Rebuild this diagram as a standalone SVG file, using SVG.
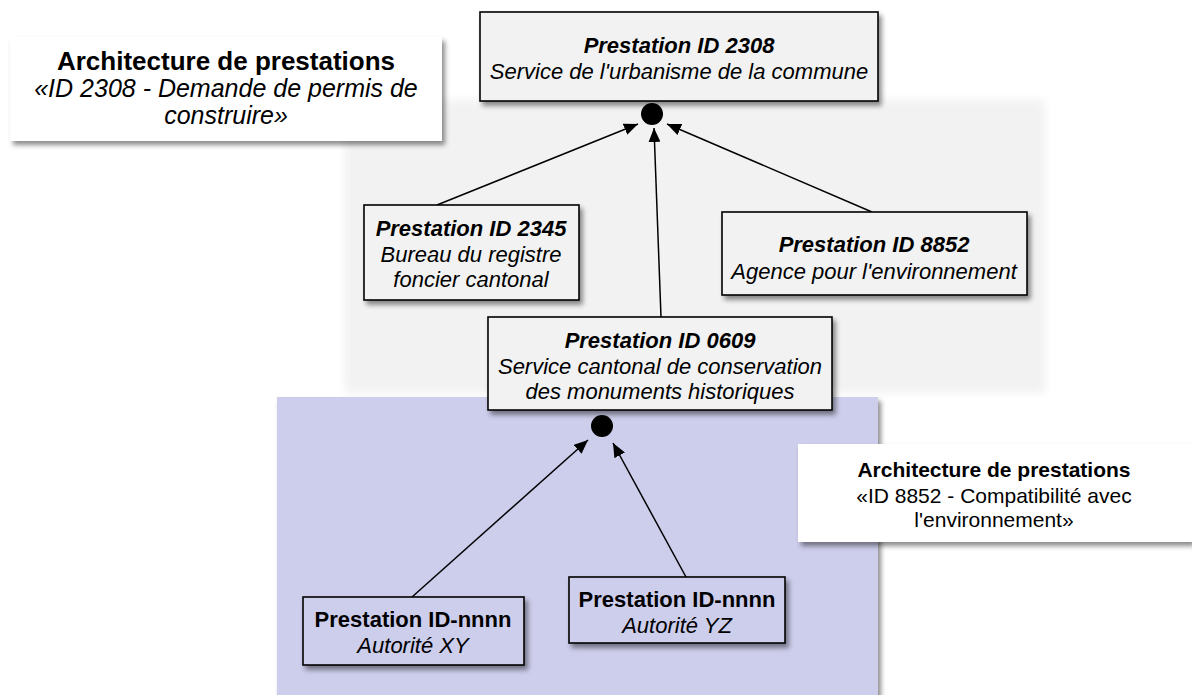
<svg xmlns="http://www.w3.org/2000/svg" width="1192" height="695" viewBox="0 0 1192 695">
  <defs>
    <style>
      .node { fill: #f2f2f2; stroke: #000; stroke-width: 1.6; }
      .node-sub { fill: #cdcdec; stroke: #000; stroke-width: 1.6; }
      .label { fill: #ffffff; }
      text { font-family: "Liberation Sans", Arial, sans-serif; fill: #000; text-anchor: middle; }
      .t { font-size: 22px; }
      .bi { font-weight: bold; font-style: italic; }
      .b { font-weight: bold; }
      .i { font-style: italic; }
      .edge { stroke: #000; stroke-width: 1.5; fill: none; marker-end: url(#arrow); }
      .dot { fill: #000; }
    </style>
    <filter id="shadow" x="-10%" y="-10%" width="130%" height="140%">
      <feDropShadow dx="3" dy="4" stdDeviation="2.5" flood-color="#000" flood-opacity="0.45"/>
    </filter>
    <filter id="soft" x="-5%" y="-5%" width="110%" height="110%">
      <feGaussianBlur stdDeviation="4"/>
    </filter>
    <marker id="arrow" viewBox="0 0 14 12" refX="14" refY="6" markerWidth="14" markerHeight="12" markerUnits="userSpaceOnUse" orient="auto">
      <path d="M0,0 L14,6 L0,12 z" fill="#000"/>
    </marker>
  </defs>

  <rect width="1192" height="695" fill="#ffffff"/>

  <!-- background areas -->
  <g id="area-2308">
    <rect x="345" y="100" width="700" height="293" fill="#f2f2f2" filter="url(#soft)"/>
  </g>
  <g id="area-8852">
    <rect x="277" y="397" width="601" height="310" fill="#cdcdec" filter="url(#shadow)"/>
  </g>

  <!-- title labels -->
  <g id="label-2308">
    <rect class="label" x="10" y="37" width="432" height="104" filter="url(#shadow)"/>
    <text x="226" y="70" style="font-size:26px" class="b">Architecture de prestations</text>
    <text x="226" y="97" style="font-size:25px" class="i">«ID 2308 - Demande de permis de</text>
    <text x="226" y="124" style="font-size:25px" class="i">construire»</text>
  </g>
  <g id="label-8852">
    <rect class="label" x="798" y="444" width="394" height="98" filter="url(#shadow)"/>
    <text x="994" y="477" style="font-size:21px" class="b">Architecture de prestations</text>
    <text x="994" y="503" style="font-size:21px">«ID 8852 - Compatibilité avec</text>
    <text x="994" y="527" style="font-size:21px">l'environnement»</text>
  </g>

  <!-- connectors -->
  <g id="connectors">
    <line class="edge" x1="437" y1="205" x2="638" y2="124"/>
    <line class="edge" x1="661" y1="317" x2="654" y2="128"/>
    <line class="edge" x1="872" y1="212" x2="667" y2="124"/>
    <line class="edge" x1="412" y1="597" x2="588" y2="440"/>
    <line class="edge" x1="686" y1="577" x2="613" y2="443"/>
    <circle class="dot" cx="652" cy="114" r="11"/>
    <circle class="dot" cx="602" cy="426" r="11"/>
  </g>

  <!-- nodes -->
  <g id="node-2308">
    <rect class="node" x="480" y="12" width="398" height="89" filter="url(#shadow)"/>
    <text x="679" y="53" class="t bi">Prestation ID 2308</text>
    <text x="679" y="79" class="t i">Service de l'urbanisme de la commune</text>
  </g>
  <g id="node-2345">
    <rect class="node" x="364" y="205" width="215" height="95" filter="url(#shadow)"/>
    <text x="471" y="236" class="t bi">Prestation ID 2345</text>
    <text x="471" y="262" class="t i">Bureau du registre</text>
    <text x="471" y="287" class="t i">foncier cantonal</text>
  </g>
  <g id="node-8852">
    <rect class="node" x="722" y="212" width="305" height="83" filter="url(#shadow)"/>
    <text x="874" y="252" class="t bi">Prestation ID 8852</text>
    <text x="874" y="279" class="t i">Agence pour l'environnement</text>
  </g>
  <g id="node-0609">
    <rect class="node" x="488" y="317" width="344" height="93" filter="url(#shadow)"/>
    <text x="660" y="348" class="t bi">Prestation ID 0609</text>
    <text x="660" y="374" class="t i">Service cantonal de conservation</text>
    <text x="660" y="399" class="t i">des monuments historiques</text>
  </g>
  <g id="node-xy">
    <rect class="node-sub" x="303" y="597" width="221" height="68" filter="url(#shadow)"/>
    <text x="413" y="627" class="t b">Prestation ID-nnnn</text>
    <text x="413" y="653" class="t i">Autorité XY</text>
  </g>
  <g id="node-yz">
    <rect class="node-sub" x="569" y="577" width="216" height="66" filter="url(#shadow)"/>
    <text x="677" y="607" class="t b">Prestation ID-nnnn</text>
    <text x="677" y="633" class="t i">Autorité YZ</text>
  </g>
</svg>
